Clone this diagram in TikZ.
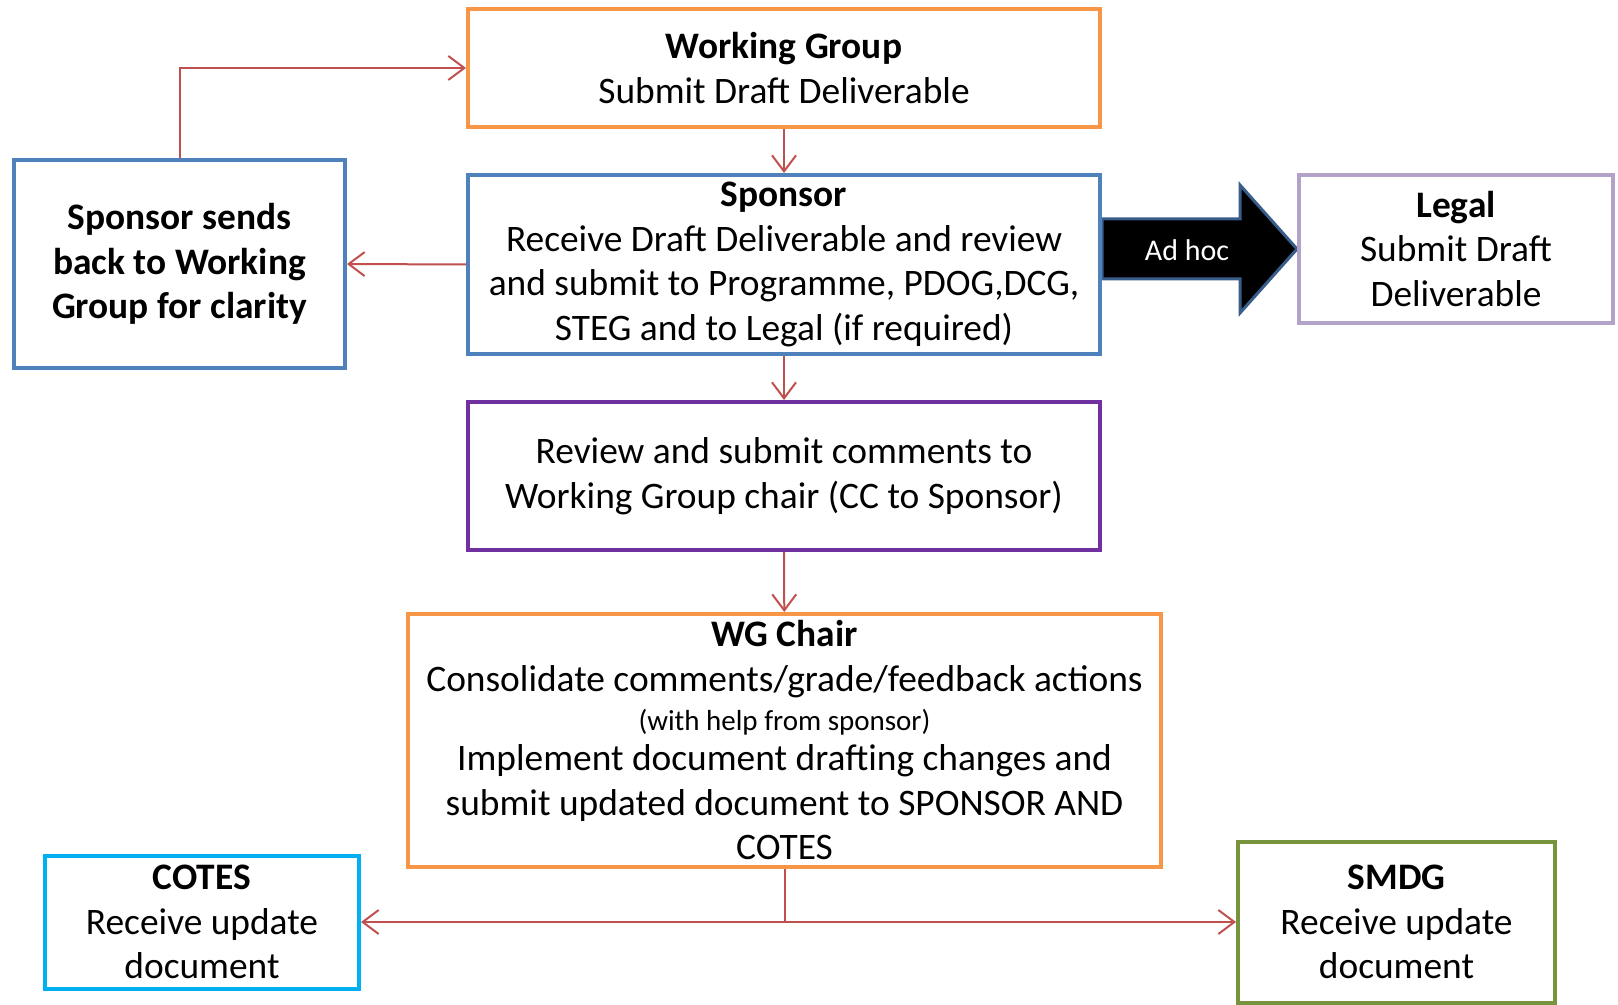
\documentclass[tikz,border=0pt]{standalone}
\usepackage{fontspec}
\setmainfont{Carlito}
\usepackage{tikz}
\usetikzlibrary{arrows.meta,backgrounds}

\definecolor{wgorange}{HTML}{F79646}
\definecolor{spblue}{HTML}{4F81BD}
\definecolor{rvpurple}{HTML}{7030A0}
\definecolor{lglilac}{HTML}{B3A2C7}
\definecolor{ctcyan}{HTML}{00B0F0}
\definecolor{smgreen}{HTML}{77933C}
\definecolor{flowred}{HTML}{C0504D}
\definecolor{adedge}{HTML}{385D8A}

\tikzset{
  box/.style={draw, line width=2pt, fill=white, align=center, inner sep=0pt,
    font=\fontsize{18.7}{22.3}\selectfont},
  flow/.style={draw=flowred, line width=1pt, -{Straight Barb[length=8pt,width=12pt]}},
  adhoc/.style={fill=black, draw=adedge, line width=1.5pt, line join=miter}
}

\begin{document}
\begin{tikzpicture}[x=0.5pt,y=-0.5pt]

\useasboundingbox (0,0) rectangle (1618,1005);

% Boxes
\node[box, draw=wgorange, minimum width=316pt, minimum height=59pt] (wg) at (784,68)
  {\textbf{Working Group}\\Submit Draft Deliverable};
\node[box, draw=spblue, minimum width=316pt, minimum height=89.5pt] (sponsor) at (784,264.5)
  {\textbf{Sponsor}\\Receive Draft Deliverable and review\\and submit to Programme, PDOG,DCG,\\STEG and to Legal (if required)};
\node[box, draw=spblue, minimum width=165.5pt, minimum height=104pt] (back) at (179.5,264)
  {\textbf{Sponsor sends}\\\textbf{back to Working}\\\textbf{Group for clarity}};
\node[box, draw=lglilac, minimum width=157pt, minimum height=74pt] (legal) at (1456,249)
  {\textbf{Legal}\\Submit Draft\\Deliverable};
\node[box, draw=rvpurple, minimum width=316pt, minimum height=74pt] (review) at (784,476)
  {Review and submit comments to\\Working Group chair (CC to Sponsor)};
\node[box, draw=wgorange, minimum width=376.5pt, minimum height=126.5pt] (chair) at (784.5,740.5)
  {\textbf{WG Chair}\\Consolidate comments/grade/feedback actions\\[-3pt]
   {\fontsize{14.5}{17}\selectfont (with help from sponsor)}\\[-2pt]
   Implement document drafting changes and\\submit updated document to SPONSOR AND\\COTES};
\node[box, draw=ctcyan, minimum width=157pt, minimum height=66.5pt] (cotes) at (202,922)
  {\textbf{COTES}\\Receive update\\document};
\node[box, draw=smgreen, minimum width=158.5pt, minimum height=80.5pt] (smdg) at (1396.5,922)
  {\textbf{SMDG}\\Receive update\\document};

% Ad hoc arrow to Legal
\coordinate (ahbase) at (sponsor.east |- legal.west);
\begin{scope}[on background layer]
\filldraw[adhoc] ([shift={(0,-30)}]ahbase) -- ([shift={(138,-30)}]ahbase)
  -- ([shift={(138,-64)}]ahbase) -- (legal.west) -- ([shift={(138,64)}]ahbase)
  -- ([shift={(138,30)}]ahbase) -- ([shift={(0,30)}]ahbase) -- cycle;
\end{scope}
\node[text=white, font=\fontsize{15}{18}\selectfont] (adlabel) at ([shift={(85,1)}]ahbase) {Ad hoc};

% Flow
\draw[flow] (wg) -- (sponsor);
\draw[flow] (sponsor) -- (review);
\draw[flow] (review) -- (chair);
\draw[flow] (sponsor.west) -- (back.east);
\draw[flow] (back.north) |- (wg.west);
\draw[flow] (chair.south) |- (cotes.east);
\draw[flow] (chair.south) |- (smdg.west);

\end{tikzpicture}
\end{document}
